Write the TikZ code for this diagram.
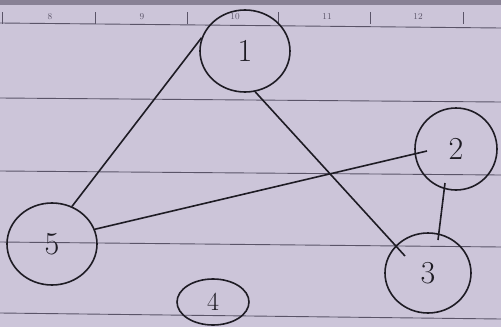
\documentclass[tikz,border=0pt]{standalone}
\usetikzlibrary{shapes.geometric,calc}
\definecolor{paper}{HTML}{CCC5D9}
\definecolor{rule}{HTML}{5A5468}
\definecolor{ink}{HTML}{1E1C24}
\tikzset{
  vert/.style={ellipse, draw=ink, line width=1.6pt, inner sep=0pt, text=ink,
    font=\fontsize{32}{34}\selectfont},
  edge/.style={draw=ink, line width=1.6pt},
  paperline/.style={draw=rule, line width=0.9pt},
  tick/.style={draw=rule, line width=0.8pt},
  rulenum/.style={text=rule, font=\fontsize{9}{10}\selectfont}
}
\begin{document}
\begin{tikzpicture}[x=1pt,y=-1pt]
\useasboundingbox (0,0) rectangle (501,327);
\fill[paper] (0,0) rectangle (501,327);
\fill[rule!60!paper] (0,0) rectangle (501,5);
% ruler
\draw[paperline] (0,23) -- (501,28);
\foreach \x in {2,95,187,278,370,463} \draw[tick] (\x,12) -- (\x,24);
\foreach \x/\t in {50/8,142/9,235/10,327/11,418/12} \node[rulenum] at (\x,17) {\t};
% ruled lines
\draw[paperline] (0,98) -- (501,102);
\draw[paperline] (0,171) -- (501,175);
\draw[paperline] (0,242) -- (501,247);
\draw[paperline] (0,313) -- (501,319);
% vertices
\node[vert, minimum width=90pt, minimum height=82pt] (n1) at (245,51) {1};
\node[vert, minimum width=82pt, minimum height=82pt] (n2) at (456,149) {2};
\node[vert, minimum width=86pt, minimum height=80pt] (n3) at (428,273) {3};
\node[vert, minimum width=72pt, minimum height=46pt, font=\fontsize{26}{28}\selectfont] (n4) at (213,302) {4};
\node[vert, minimum width=90pt, minimum height=82pt] (n5) at (52,244) {5};
% edges
\draw[edge] (n5.62) -- (n1.163);
\draw[edge] (n1.-76) -- ($(n3.center)+(-23,-17)$);
\draw[edge] (n5.19) -- ($(n2.center)+(-29,2)$);
\draw[edge] ($(n2.center)+(-11,34)$) -- ($(n3.center)+(10,-33)$);
\end{tikzpicture}
\end{document}
